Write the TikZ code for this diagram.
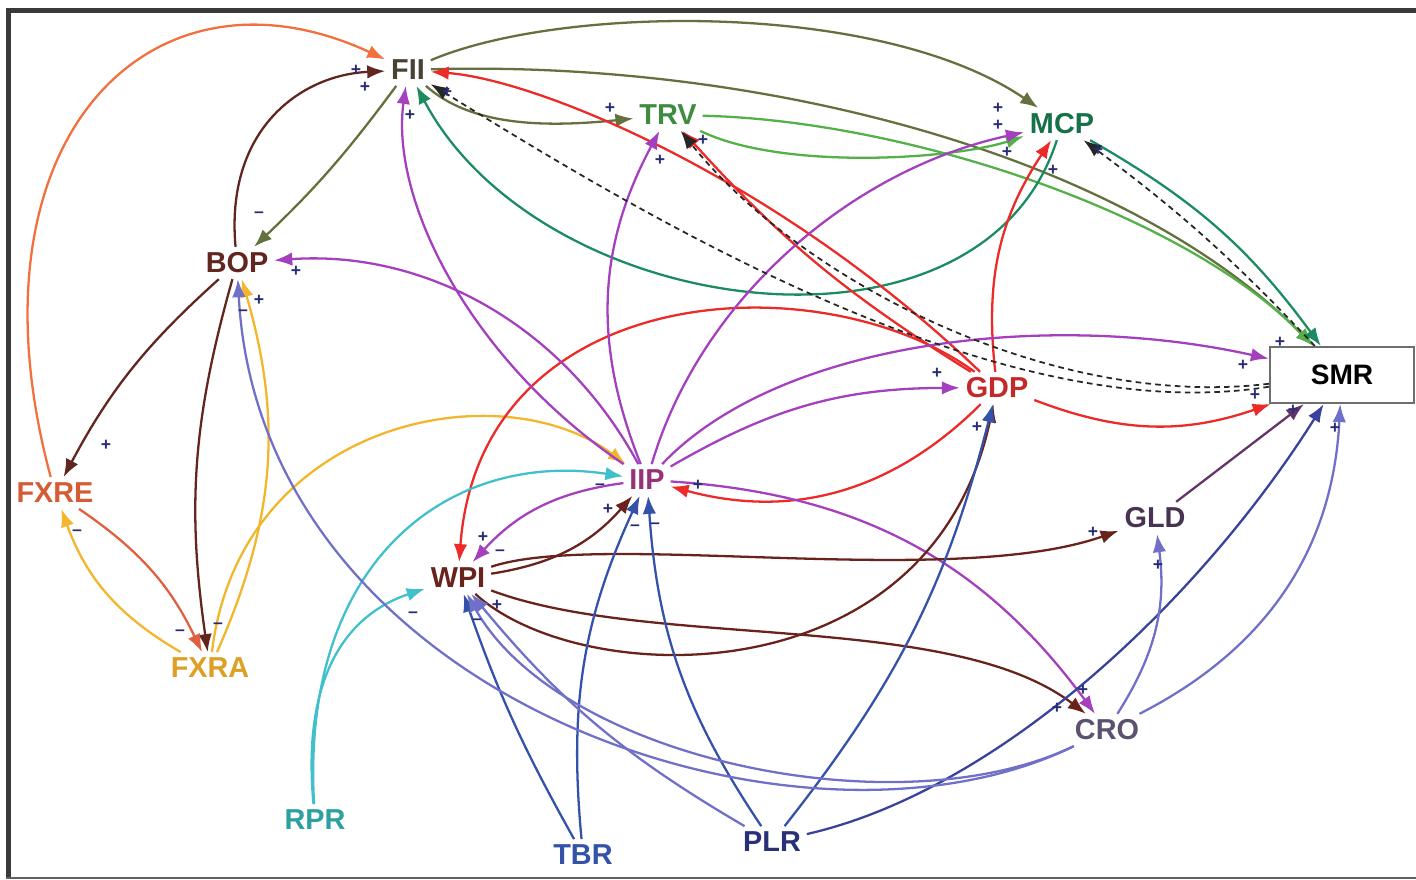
\documentclass[tikz,border=0pt]{standalone}
\usepackage{fontspec}
\setmainfont{Liberation Sans}
\usepackage{xcolor}
\usetikzlibrary{arrows.meta}
\definecolor{framegray}{RGB}{58,58,58}
\definecolor{signblue}{RGB}{40,45,115}
\definecolor{fiiink}{RGB}{72,66,52}
\definecolor{olivel}{RGB}{100,112,62}
\definecolor{bopbrown}{RGB}{98,38,32}
\definecolor{wpibrown}{RGB}{105,35,28}
\definecolor{redl}{RGB}{236,42,40}
\definecolor{gdpred}{RGB}{196,40,40}
\definecolor{tealg}{RGB}{26,140,96}
\definecolor{mcpink}{RGB}{22,112,72}
\definecolor{greenl}{RGB}{84,176,72}
\definecolor{trvink}{RGB}{62,140,64}
\definecolor{purplem}{RGB}{164,64,190}
\definecolor{iipink}{RGB}{150,50,120}
\definecolor{orangel}{RGB}{242,112,62}
\definecolor{fxreink}{RGB}{212,92,52}
\definecolor{salmon}{RGB}{222,96,64}
\definecolor{goldl}{RGB}{242,182,44}
\definecolor{fxraink}{RGB}{220,160,36}
\definecolor{cyanl}{RGB}{64,192,204}
\definecolor{rprink}{RGB}{44,160,160}
\definecolor{tbrblue}{RGB}{52,82,170}
\definecolor{plrblue}{RGB}{58,66,156}
\definecolor{plrink}{RGB}{40,48,120}
\definecolor{violetb}{RGB}{112,112,200}
\definecolor{croink}{RGB}{92,82,112}
\definecolor{plumd}{RGB}{100,52,104}
\definecolor{gldink}{RGB}{72,52,82}
\definecolor{boxgray}{RGB}{110,110,110}
\tikzset{
  var/.style={font=\fontsize{8.2}{9}\selectfont\bfseries,inner sep=1.5pt},
  box/.style={draw=boxgray,fill=white,line width=0.6pt,font=\fontsize{8}{9}\selectfont\bfseries,
    minimum width=1.44cm,minimum height=0.56cm},
  link/.style={line width=0.65pt,-{Latex[length=1.8mm,width=1.35mm]}},
  fb/.style={line width=0.5pt,dash pattern=on 1.6pt off 1.2pt,black!85,-{Latex[length=1.8mm,width=1.35mm]}},
  pol/.style={font=\fontsize{5}{5}\selectfont\bfseries,text=signblue,inner sep=0pt}
}
\begin{document}
\begin{tikzpicture}[x=0.01cm,y=0.01cm]
  \useasboundingbox (0,0) rectangle (1416,-879);
  % frame
  \fill[framegray] (6,-8) rectangle (1416,-13);
  \fill[framegray] (6,-8) rectangle (11,-879);
  \fill[framegray!80] (6,-877) rectangle (1416,-879);
  % variables
  \node[var,text=fiiink] (FII) at (408,-70) {FII};
  \node[var,text=trvink] (TRV) at (668,-115) {TRV};
  \node[var,text=mcpink] (MCP) at (1062,-124) {MCP};
  \node[var,text=bopbrown] (BOP) at (237,-263) {BOP};
  \node[var,text=gdpred] (GDP) at (997,-388) {GDP};
  \node[box] (SMR) at (1342,-375) {SMR};
  \node[var,text=iipink] (IIP) at (647,-480) {IIP};
  \node[var,text=fxreink] (FXRE) at (55,-493) {FXRE};
  \node[var,text=wpibrown] (WPI) at (458,-578) {WPI};
  \node[var,text=gldink] (GLD) at (1155,-518) {GLD};
  \node[var,text=fxraink] (FXRA) at (210,-668) {FXRA};
  \node[var,text=croink] (CRO) at (1107,-730) {CRO};
  \node[var,text=rprink] (RPR) at (315,-820) {RPR};
  \node[var,text=tbrblue] (TBR) at (583,-855) {TBR};
  \node[var,text=plrink] (PLR) at (772,-842) {PLR};
  % links out of FII, BOP, FXRE, FXRA
  \draw[link,orangel] (FXRE) .. controls (-40,-140) and (150,50) .. (FII);
  \draw[link,bopbrown] (BOP) .. controls (225,-130) and (300,-75) .. (FII);
  \draw[link,olivel] (FII) to[bend left=5] (BOP);
  \draw[link,olivel] (FII) .. controls (560,-5) and (880,0) .. (MCP);
  \draw[link,olivel] (FII) .. controls (750,-60) and (1120,-150) .. (SMR);
  \draw[link,olivel] (FII) .. controls (470,-125) and (540,-128) .. (TRV);
  \draw[link,bopbrown] (BOP) to[bend right=10] (FXRE);
  \draw[link,bopbrown] (BOP) to[bend right=12] (FXRA);
  \draw[link,goldl] (FXRA) to[bend right=20] (BOP);
  \draw[link,goldl] (FXRA) to[bend left=20] (FXRE);
  \draw[link,salmon] (FXRE) to[bend left=15] (FXRA);
  \draw[link,goldl] (FXRA) .. controls (240,-420) and (500,-370) .. (IIP);
  % links out of TRV, MCP
  \draw[link,greenl] (TRV) .. controls (780,-170) and (950,-160) .. (MCP);
  \draw[link,greenl] (TRV) .. controls (900,-120) and (1180,-210) .. (SMR);
  \draw[link,tealg] (MCP) .. controls (980,-380) and (540,-320) .. (FII);
  \draw[link,tealg] (MCP) to[bend left=12] (SMR);
  % links out of GDP
  \draw[link,redl] (GDP) .. controls (780,-180) and (540,-80) .. (FII);
  \draw[link,redl] (GDP) to[bend left=8] (TRV);
  \draw[link,redl] (GDP) to[bend left=20] (MCP);
  \draw[link,redl] (GDP) .. controls (820,-260) and (480,-280) .. (WPI);
  \draw[link,redl] (GDP) to[bend left=30] (IIP);
  \draw[link,redl] (GDP) to[bend right=20] (SMR);
  % links out of IIP
  \draw[link,purplem] (IIP) .. controls (470,-360) and (390,-200) .. (FII);
  \draw[link,purplem] (IIP) .. controls (700,-300) and (850,-170) .. (MCP);
  \draw[link,purplem] (IIP) to[bend left=25] (TRV);
  \draw[link,purplem] (IIP) .. controls (560,-320) and (420,-250) .. (BOP);
  \draw[link,purplem] (IIP) to[bend left=15] (GDP);
  \draw[link,purplem] (IIP) .. controls (780,-340) and (1050,-310) .. (SMR);
  \draw[link,purplem] (IIP) to[bend right=20] (WPI);
  \draw[link,purplem] (IIP) to[bend left=25] (CRO);
  % links out of WPI
  \draw[link,wpibrown] (WPI) .. controls (580,-690) and (930,-700) .. (GDP);
  \draw[link,wpibrown] (WPI) .. controls (600,-530) and (950,-590) .. (GLD);
  \draw[link,wpibrown] (WPI) .. controls (650,-650) and (950,-610) .. (CRO);
  \draw[link,wpibrown] (WPI) to[bend right=20] (IIP);
  % links out of RPR, TBR, PLR
  \draw[link,cyanl] (RPR) .. controls (300,-560) and (450,-450) .. (IIP);
  \draw[link,cyanl] (RPR) .. controls (300,-660) and (360,-610) .. (WPI);
  \draw[link,tbrblue] (TBR) to[bend left=5] (WPI);
  \draw[link,tbrblue] (TBR) to[bend left=15] (IIP);
  \draw[link,tbrblue] (PLR) to[bend left=15] (IIP);
  \draw[link,violetb] (PLR) to[bend left=10] (WPI);
  \draw[link,tbrblue] (PLR) to[bend right=12] (GDP);
  \draw[link,plrblue] (PLR) .. controls (1000,-790) and (1200,-600) .. (SMR);
  % links out of CRO, GLD
  \draw[link,violetb] (CRO) to[bend right=30] (SMR);
  \draw[link,violetb] (CRO) to[bend right=20] (GLD);
  \draw[link,violetb] (CRO) .. controls (900,-830) and (560,-760) .. (WPI);
  \draw[link,violetb] (CRO) .. controls (800,-880) and (260,-700) .. (BOP);
  \draw[link,plumd] (GLD) -- (SMR);
  % feedback from SMR
  \draw[fb] (SMR) .. controls (1000,-430) and (650,-220) .. (FII);
  \draw[fb] (SMR) .. controls (1050,-410) and (800,-280) .. (TRV);
  \draw[fb] (SMR) to[bend right=5] (MCP);
  % polarities
  \foreach \px/\py/\s [count=\i] in {
    356/70/+,365/87/+,410/115/+,447/92/+,610/108/+,660/160/+,703/140/+,
    998/108/+,998/125/+,1007/152/+,1053/170/+,1098/150/+,
    259/215/--,296/271/+,259/300/+,243/313/--,
    1243/365/+,1280/342/+,937/373/+,1255/395/+,1293/410/+,1335/428/+,977/427/+,
    106/445/+,77/533/--,180/633/--,218/626/--,
    600/487/--,608/509/+,635/528/--,655/526/--,698/485/+,483/537/+,500/553/--,
    413/615/--,497/605/+,477/622/--,
    1093/532/+,1158/565/+,1083/690/+,1057/708/+}
    \node[pol] (pol\i) at (\px,-\py) {\s};
\end{tikzpicture}
\end{document}
